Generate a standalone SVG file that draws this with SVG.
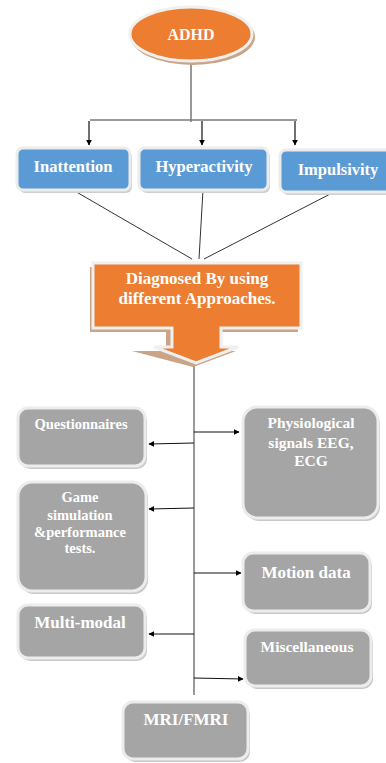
<svg xmlns="http://www.w3.org/2000/svg" width="386" height="763" viewBox="0 0 386 763">
<style>
.t{font-family:"Liberation Serif","Times New Roman",serif;font-weight:bold;fill:#fff;text-anchor:middle}
.blue{fill:#5b9bd5;stroke:#ececec;stroke-width:3}
.gray{fill:#a5a5a5;stroke:#ececec;stroke-width:3}
.sh{fill:#c9c9c9}
.shb{fill:#cfcfcf}
.ln{stroke:#333;stroke-width:1;fill:none}
.ar{stroke:#111;stroke-width:1.2;fill:none;marker-end:url(#ah)}
</style>
<defs>
<marker id="ah" viewBox="0 0 10 10" refX="9" refY="5" markerWidth="6" markerHeight="6" markerUnits="userSpaceOnUse" orient="auto">
<path d="M0,0 L10,5 L0,10 Z" fill="#000"/>
</marker>
</defs>
<rect width="386" height="763" fill="#fff"/>

<g id="connectors">
<line class="ln" x1="191" y1="62" x2="191" y2="122" stroke="#444"/>
<line x1="90" y1="120" x2="297" y2="120" stroke="#7a7a7a" stroke-width="1.5"/>
<line class="ar" x1="89" y1="121" x2="89" y2="145"/>
<line class="ar" x1="202" y1="121" x2="202" y2="145"/>
<line class="ar" x1="295" y1="121" x2="295" y2="145"/>
<line class="ln" x1="73" y1="190" x2="192" y2="259"/>
<line class="ln" x1="203" y1="190" x2="199" y2="259"/>
<line class="ln" x1="338" y1="190" x2="204" y2="259"/>
<line x1="194" y1="360" x2="194" y2="695" stroke="#555" stroke-width="1.2"/>
<line class="ar" x1="194" y1="443" x2="149" y2="444"/>
<line class="ar" x1="194" y1="432" x2="239" y2="432"/>
<line class="ar" x1="194" y1="508" x2="149" y2="509"/>
<line class="ar" x1="194" y1="573" x2="241" y2="573"/>
<line class="ar" x1="194" y1="634" x2="149" y2="634"/>
<line class="ar" x1="194" y1="678" x2="243" y2="679"/>
</g>

<g id="adhd">
<ellipse cx="193" cy="37" rx="62" ry="28" fill="#c9a487"/>
<ellipse cx="191" cy="34" rx="61" ry="27" fill="#ed7d31" stroke="#f0f0f0" stroke-width="3"/>
<text class="t" x="191" y="40" font-size="16">ADHD</text>
</g>

<g id="inattention">
<rect x="19" y="151" width="113" height="42" rx="6" class="shb"/>
<rect x="17" y="148" width="113" height="42" rx="6" class="blue"/>
<text class="t" x="73" y="172" font-size="16.5">Inattention</text>
</g>
<g id="hyperactivity">
<rect x="141" y="151" width="129" height="42" rx="6" class="shb"/>
<rect x="139" y="148" width="129" height="42" rx="6" class="blue"/>
<text class="t" x="204" y="172" font-size="16.5">Hyperactivity</text>
</g>
<g id="impulsivity">
<rect x="282" y="153" width="120" height="42" rx="6" class="shb"/>
<rect x="280" y="150" width="120" height="42" rx="6" class="blue"/>
<text class="t" x="338" y="175" font-size="16.5">Impulsivity</text>
</g>

<g id="diagnosed">
<path d="M90,267 H298 V332 H219 V351 H236 L193,367 L132,351 H166 V332 H90 Z" fill="#c9a487"/>
<path d="M93,263 H301 V328 H221 V347 H238 L196,363 L154,347 H172 V328 H93 Z" fill="#ed7d31" stroke="#f0f0f0" stroke-width="3" stroke-linejoin="miter"/>
<text class="t" x="197" y="284" font-size="17">Diagnosed By using</text>
<text class="t" x="197" y="304" font-size="17">different Approaches.</text>
</g>

<g id="questionnaires">
<rect x="20" y="411" width="127" height="58" rx="10" class="sh"/>
<rect x="18" y="408" width="127" height="58" rx="10" class="gray"/>
<text class="t" x="81" y="429" font-size="14.5">Questionnaires</text>
</g>
<g id="physiological">
<rect x="245" y="410" width="135" height="111" rx="14" class="sh"/>
<rect x="243" y="407" width="135" height="111" rx="14" class="gray"/>
<text class="t" x="311" y="428" font-size="15.5">Physiological</text>
<text class="t" x="311" y="448" font-size="15.5">signals EEG,</text>
<text class="t" x="311" y="466" font-size="15.5">ECG</text>
</g>
<g id="game">
<rect x="20" y="485" width="128" height="109" rx="14" class="sh"/>
<rect x="18" y="482" width="128" height="109" rx="14" class="gray"/>
<text class="t" x="80" y="502" font-size="14.5">Game</text>
<text class="t" x="80" y="520" font-size="14.5">simulation</text>
<text class="t" x="80" y="537" font-size="14.5">&amp;performance</text>
<text class="t" x="80" y="553" font-size="14.5">tests.</text>
</g>
<g id="motion">
<rect x="245" y="556" width="127" height="58" rx="10" class="sh"/>
<rect x="243" y="553" width="127" height="58" rx="10" class="gray"/>
<text class="t" x="306" y="578" font-size="17">Motion data</text>
</g>
<g id="multimodal">
<rect x="20" y="608" width="127" height="53" rx="10" class="sh"/>
<rect x="18" y="605" width="127" height="53" rx="10" class="gray"/>
<text class="t" x="80" y="628" font-size="17">Multi-modal</text>
</g>
<g id="misc">
<rect x="247" y="633" width="126" height="56" rx="10" class="sh"/>
<rect x="245" y="630" width="126" height="56" rx="10" class="gray"/>
<text class="t" x="307" y="652" font-size="15.5">Miscellaneous</text>
</g>
<g id="mri">
<rect x="125" y="705" width="125" height="57" rx="10" class="sh"/>
<rect x="123" y="702" width="125" height="57" rx="10" class="gray"/>
<text class="t" x="186" y="725" font-size="17">MRI/FMRI</text>
</g>
</svg>
